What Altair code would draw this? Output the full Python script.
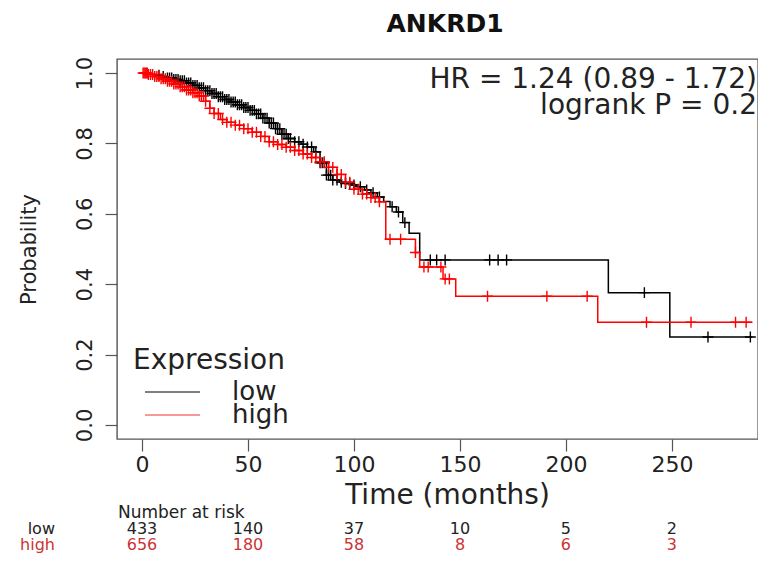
import altair as alt
import pandas as pd

# ---------------- data ----------------
groups = ["low", "high"]
group_colors = ["#000000", "#ff0000"]

low_t = [0, 3, 6, 9, 12, 15, 18, 21, 24, 27, 30, 33, 36, 39, 42, 45, 48, 51, 54, 57,
         60, 63, 66, 69, 72, 75, 78, 81, 84, 87, 90, 93, 96, 99, 102, 105, 108, 111,
         114, 117, 120, 123, 126, 131, 220, 249, 288]
low_s = [1.0, 0.997, 0.994, 0.99, 0.986, 0.982, 0.978, 0.972, 0.965, 0.958,
         0.95, 0.942, 0.933, 0.925, 0.918, 0.91, 0.902, 0.894, 0.884, 0.872,
         0.858, 0.842, 0.826, 0.814, 0.805, 0.798, 0.79, 0.776, 0.745, 0.71,
         0.696, 0.69, 0.686, 0.682, 0.677, 0.668, 0.66, 0.648, 0.635, 0.62,
         0.605, 0.575, 0.545, 0.469, 0.376, 0.25, 0.25]

high_t = [0, 3, 6, 9, 12, 15, 18, 21, 24, 27, 30, 32, 34, 37, 40, 44, 48, 52, 56, 60,
          64, 68, 72, 76, 80, 84, 88, 92, 96, 100, 104, 108, 112, 115, 129, 131, 142,
          148, 215, 288]
high_s = [1.0, 0.996, 0.99, 0.984, 0.977, 0.969, 0.961, 0.952, 0.944, 0.935,
          0.92, 0.9, 0.885, 0.868, 0.86, 0.852, 0.842, 0.832, 0.82, 0.805,
          0.797, 0.789, 0.78, 0.77, 0.76, 0.748, 0.732, 0.712, 0.69, 0.67,
          0.656, 0.646, 0.634, 0.528, 0.49, 0.449, 0.415, 0.366, 0.292, 0.292]

low_censor = [8, 10, 12, 13, 14, 15, 16, 17, 18, 19, 20, 21, 22, 23, 24, 25, 26, 27,
              28, 29, 30, 31, 32, 33, 34, 35, 36, 37, 38, 39, 40, 41, 42, 43, 44, 45,
              46, 47, 48, 49, 50, 51, 52, 53, 54, 55, 56, 57, 58, 59, 60, 61, 62, 63,
              64, 65, 66, 67, 68, 69, 70, 72, 74, 76, 78, 80, 82, 84, 85, 86, 87, 88,
              89, 90, 92, 94, 96, 98, 100, 103, 106, 109, 112, 118, 121, 124,
              136, 139, 143, 164, 168, 172, 237, 267, 287]
high_censor = [0.5, 1, 1.5, 2, 2.5, 3, 4, 5, 6, 7, 8, 9, 10, 11, 12, 13, 14, 15, 16,
               17, 18, 19, 20, 21, 22, 23, 24, 25, 26, 27, 28, 29, 30, 32, 34, 36, 38,
               40, 42, 44, 46, 48, 50, 52, 54, 56, 58, 60, 62, 64, 66, 68, 70, 72, 74,
               76, 78, 80, 82, 84, 86, 88, 90, 92, 94, 96, 98, 100, 102, 104, 106, 108,
               110, 112, 117, 122, 129, 133, 135, 141, 143, 145, 163, 191, 210, 238,
               259, 280, 285]

risk_times = [0, 50, 100, 150, 200, 250]
risk_low = [433, 140, 37, 10, 5, 2]
risk_high = [656, 180, 58, 8, 6, 3]

title_text = "ANKRD1"
hr_text = "HR = 1.24 (0.89 - 1.72)"
p_text = "logrank P = 0.2"
legend_title = "Expression"
x_ticks = [0, 50, 100, 150, 200, 250]
y_ticks = [0.0, 0.2, 0.4, 0.6, 0.8, 1.0]


def surv_at(t, times, surv):
    v = surv[0]
    for ti, si in zip(times, surv):
        if ti <= t:
            v = si
        else:
            break
    return v


curve_rows = []
for g, ts, ss in [("low", low_t, low_s), ("high", high_t, high_s)]:
    for i, (t, s) in enumerate(zip(ts, ss)):
        curve_rows.append({"group": g, "t": t, "s": s, "i": i})
curves = pd.DataFrame(curve_rows)

cens_rows = []
for g, cs, ts, ss in [("low", low_censor, low_t, low_s), ("high", high_censor, high_t, high_s)]:
    for t in cs:
        cens_rows.append({"group": g, "t": t, "s": surv_at(t, ts, ss)})
cens = pd.DataFrame(cens_rows)

risk_df_low = pd.DataFrame({"t": risk_times, "n": risk_low})
risk_df_high = pd.DataFrame({"t": risk_times, "n": risk_high})

FONT = "DejaVu Sans"
W, H = 641, 380
TXT = "#222222"
RISK_RED = "#cc3333"

xscale = alt.Scale(domain=[-11.8, 290.6], nice=False, zero=False)
yscale = alt.Scale(domain=[-0.04, 1.04], nice=False, zero=False)
cscale = alt.Scale(domain=groups, range=group_colors)

X = alt.X("t:Q", scale=xscale, axis=alt.Axis(
    values=x_ticks, title="Time (months)", grid=False, domain=False,
    tickSize=12, tickColor="#555", tickWidth=1.2,
    labelFont=FONT, labelFontSize=22, labelColor=TXT, labelPadding=3,
    titleFont=FONT, titleFontSize=28, titleFontWeight="normal", titleColor=TXT,
    titleX=330, titleY=64, titleBaseline="alphabetic", titleAlign="center"))
Y = alt.Y("s:Q", scale=yscale, axis=alt.Axis(
    values=y_ticks, format=".1f", title="Probability", grid=False, domain=False,
    tickSize=12, tickColor="#555", tickWidth=1.2,
    labelFont=FONT, labelFontSize=21, labelColor=TXT, labelPadding=10,
    labelAngle=270, labelAlign="center", labelBaseline="bottom",
    titleFont=FONT, titleFontSize=21, titleFontWeight="normal", titleColor=TXT,
    titleAngle=270, titleX=-82, titleY=190, titleAlign="center",
    titleBaseline="alphabetic"))
C = alt.Color("group:N", scale=cscale, legend=None)

lines = alt.Chart(curves).mark_line(interpolate="step-after", strokeWidth=1.5).encode(
    x=X, y=Y, color=C, order="i:Q")

marks = alt.Chart(cens).mark_point(
    shape="M-1,0L1,0M0,-1L0,1", size=120, filled=False, strokeWidth=1.4, opacity=1
).encode(x=X, y=Y, color=C)

one = pd.DataFrame({"k": [0]})


def label(text, x, y, size, align="left", baseline="alphabetic", color=TXT, weight="normal"):
    return alt.Chart(one).mark_text(
        text=text, font=FONT, fontSize=size, align=align, baseline=baseline,
        color=color, fontWeight=weight
    ).encode(x=alt.value(x), y=alt.value(y))


title = label(title_text, 328, -27, 25, align="center", color="#111", weight="bold")
hr = label(hr_text, 640, 29, 28, align="right")
pv = label(p_text, 640, 55, 28, align="right")

leg_title = label(legend_title, 16, 310, 28)
leg_rule_low = alt.Chart(one).mark_rule(color=group_colors[0], strokeWidth=1).encode(
    x=alt.value(28), x2=alt.value(83), y=alt.value(333))
leg_rule_high = alt.Chart(one).mark_rule(color="#ee3333", strokeWidth=1).encode(
    x=alt.value(28), x2=alt.value(83), y=alt.value(356))
leg_low = label(groups[0], 115, 333, 26, baseline="middle")
leg_high = label(groups[1], 115, 356, 26, baseline="middle")

risk_head = label("Number at risk", 1, 454, 17, baseline="middle")
risk_lab_low = label(groups[0], -62, 470, 16, align="right", baseline="middle")
risk_lab_high = label(groups[1], -62, 486, 16, align="right", baseline="middle",
                      color=RISK_RED)
risk_low_txt = alt.Chart(risk_df_low).mark_text(font=FONT, fontSize=16, baseline="middle",
                                                color=TXT).encode(
    x=X, y=alt.value(470), text="n:Q")
risk_high_txt = alt.Chart(risk_df_high).mark_text(font=FONT, fontSize=16, baseline="middle",
                                                  color=RISK_RED).encode(
    x=X, y=alt.value(486), text="n:Q")

chart = alt.layer(
    lines, marks, title, hr, pv, leg_title, leg_rule_low, leg_rule_high, leg_low, leg_high,
    risk_head, risk_lab_low, risk_lab_high, risk_low_txt, risk_high_txt
).properties(
    width=W, height=H,
    autosize=alt.AutoSizeParams(type="none"),
    padding={"left": 109, "top": 51, "right": 0, "bottom": 116},
).configure_view(stroke="#555", strokeWidth=1.4)

chart.save("out.html", embed_options={"renderer": "svg", "actions": False})
